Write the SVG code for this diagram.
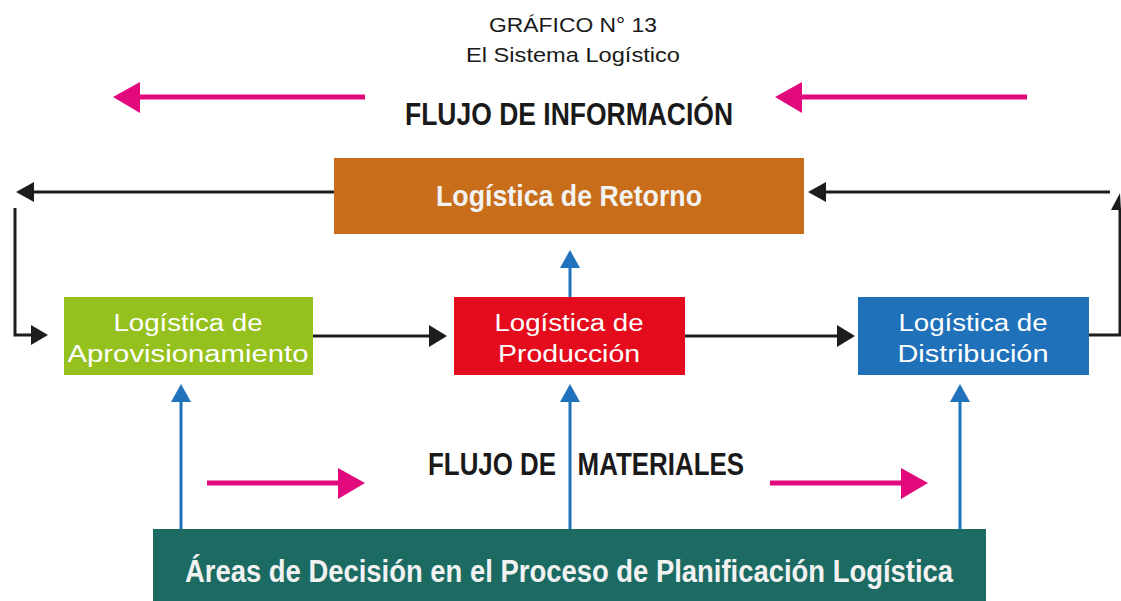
<svg xmlns="http://www.w3.org/2000/svg" width="1121" height="601" viewBox="0 0 1121 601">
<style>
.t{font-family:"Liberation Sans",Arial,sans-serif;fill:#1a1a1a;text-anchor:middle}
.h{font-family:"Liberation Sans Narrow","Liberation Sans",Arial,sans-serif;font-weight:bold;fill:#1a1a1a;text-anchor:middle}
.w{font-family:"Liberation Sans",Arial,sans-serif;fill:#fff;text-anchor:middle;font-size:23px}
.wb{font-family:"Liberation Sans Narrow","Liberation Sans",Arial,sans-serif;font-weight:bold;fill:#f2f2f2;text-anchor:middle}
.k{stroke:#1d1d1b;stroke-width:3;fill:none}
.b{stroke:#1f72bb;stroke-width:3;fill:none}
.p{stroke:#e2097c;stroke-width:5;fill:none}
</style>
<rect width="1121" height="601" fill="#fff"/>
<text class="t" x="573" y="32" font-size="21" textLength="168" lengthAdjust="spacingAndGlyphs">GRÁFICO N° 13</text>
<text class="t" x="573" y="62" font-size="21" textLength="214" lengthAdjust="spacingAndGlyphs">El Sistema Logístico</text>
<text class="h" x="569" y="125" font-size="32" textLength="328" lengthAdjust="spacingAndGlyphs">FLUJO DE INFORMACIÓN</text>
<text class="h" x="586" y="475" font-size="31" textLength="316" lengthAdjust="spacingAndGlyphs" style="white-space:pre">FLUJO DE   MATERIALES</text>

<g id="connectors">
<line class="p" x1="365" y1="97" x2="138" y2="97"/>
<polygon points="113,97 140,82 140,113" fill="#e2097c"/>
<line class="p" x1="1027" y1="97" x2="800" y2="97"/>
<polygon points="775,97 802,82 802,113" fill="#e2097c"/>
<line class="p" x1="207" y1="483" x2="340" y2="483"/>
<polygon points="365,483 338,468 338,499" fill="#e2097c"/>
<line class="p" x1="770" y1="483" x2="903" y2="483"/>
<polygon points="928,483 901,468 901,499" fill="#e2097c"/>

<line class="k" x1="335" y1="192" x2="32" y2="192"/>
<polygon points="16,192 34,182 34,202" fill="#1d1d1b"/>
<polyline class="k" points="15,208 15,335 33,335"/>
<polygon points="48,335 31,325 31,345" fill="#1d1d1b"/>
<line class="k" x1="1110" y1="192" x2="825" y2="192"/>
<polygon points="808,192 826,182 826,202" fill="#1d1d1b"/>
<polyline class="k" points="1089,335 1120,335 1120,208"/>
<polygon points="1120,193 1111,210 1121,210" fill="#1d1d1b"/>
<line class="k" x1="313" y1="336" x2="430" y2="336"/>
<polygon points="447,336 429,325 429,347" fill="#1d1d1b"/>
<line class="k" x1="685" y1="336" x2="838" y2="336"/>
<polygon points="855,336 837,325 837,347" fill="#1d1d1b"/>

<line class="b" x1="570" y1="297" x2="570" y2="265"/>
<polygon points="570,250 560,268 580,268" fill="#1f72bb"/>
<line class="b" x1="181" y1="529" x2="181" y2="400"/>
<polygon points="181,384 171,402 191,402" fill="#1f72bb"/>
<line class="b" x1="570" y1="529" x2="570" y2="400"/>
<polygon points="570,384 560,402 580,402" fill="#1f72bb"/>
<line class="b" x1="960" y1="529" x2="960" y2="400"/>
<polygon points="960,384 950,402 970,402" fill="#1f72bb"/>
</g>

<g id="retorno">
<rect x="334" y="158" width="470" height="76" fill="#c86d1a"/>
<text class="wb" x="569" y="206" font-size="30" textLength="266" lengthAdjust="spacingAndGlyphs">Logística de Retorno</text>
</g>
<g id="aprovisionamiento">
<rect x="64" y="297" width="249" height="78" fill="#95c11f"/>
<text class="w" x="188" y="331" textLength="149" lengthAdjust="spacingAndGlyphs">Logística de</text>
<text class="w" x="188" y="362" textLength="241" lengthAdjust="spacingAndGlyphs">Aprovisionamiento</text>
</g>
<g id="produccion">
<rect x="454" y="297" width="231" height="78" fill="#e30b1c"/>
<text class="w" x="569" y="331" textLength="149" lengthAdjust="spacingAndGlyphs">Logística de</text>
<text class="w" x="569" y="362" textLength="142" lengthAdjust="spacingAndGlyphs">Producción</text>
</g>
<g id="distribucion">
<rect x="858" y="297" width="231" height="78" fill="#1f71ba"/>
<text class="w" x="973" y="331" textLength="149" lengthAdjust="spacingAndGlyphs">Logística de</text>
<text class="w" x="973" y="362" textLength="151" lengthAdjust="spacingAndGlyphs">Distribución</text>
</g>
<g id="areas">
<rect x="153" y="529" width="833" height="72" fill="#1c6b63"/>
<text class="wb" x="569" y="582" font-size="31" textLength="768" lengthAdjust="spacingAndGlyphs">Áreas de Decisión en el Proceso de Planificación Logística</text>
</g>
</svg>
